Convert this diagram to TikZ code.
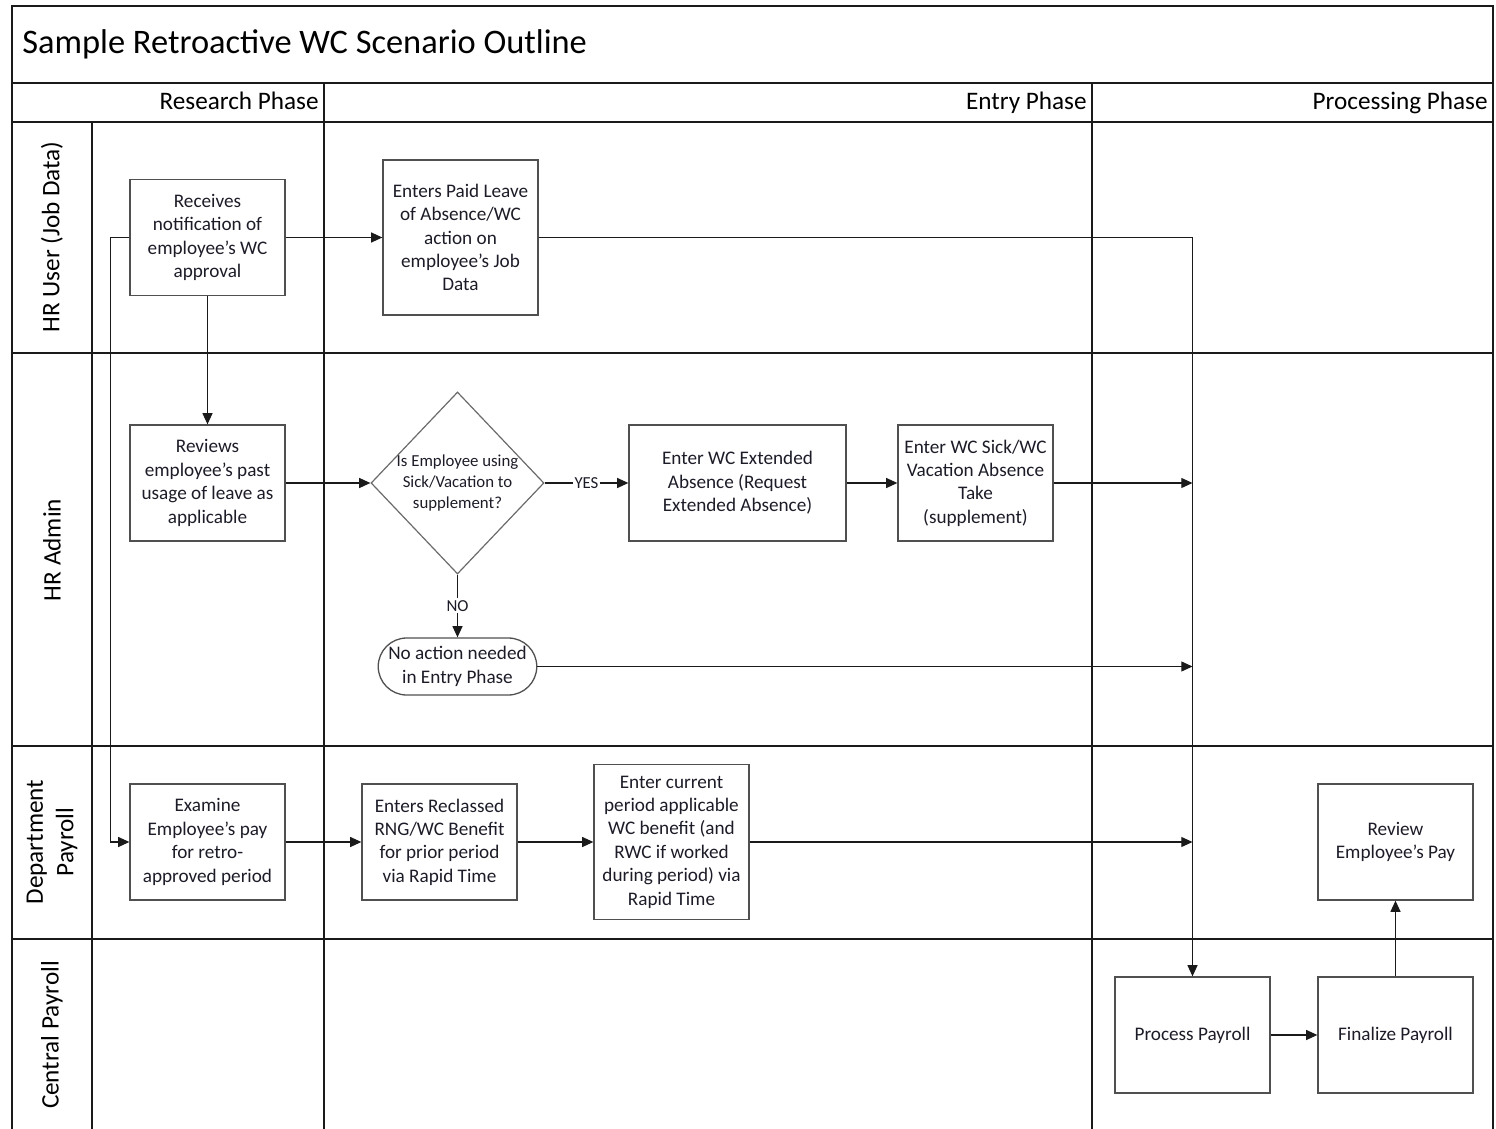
\documentclass[tikz,border=0pt]{standalone}
\usepackage{fontspec}
\setmainfont{Carlito}
\usetikzlibrary{arrows.meta,positioning,shapes.geometric,shapes.misc}
\definecolor{laneline}{HTML}{1A1A1A}
\definecolor{boxline}{HTML}{505050}
\definecolor{boxtext}{HTML}{1C1C28}
\tikzset{
  gridline/.style={draw=laneline,line width=0.75pt},
  stepbox/.style={rectangle,draw=boxline,line width=0.65pt,minimum width=77.5pt,minimum height=58pt,inner sep=1pt,align=center,text=boxtext,font=\fontsize{9.6}{11.7}\selectfont},
  tallbox/.style={stepbox,minimum height=77.5pt},
  widebox/.style={stepbox,minimum width=108.5pt},
  decbox/.style={diamond,draw=boxline!85,line width=0.6pt,minimum width=86.5pt,minimum height=91pt,inner sep=0pt},
  termbox/.style={rounded rectangle,draw=boxline,line width=0.65pt,minimum width=77.5pt,minimum height=28.5pt,inner sep=1pt,align=center,text=boxtext,font=\fontsize{9.6}{11.7}\selectfont},
  flowarrow/.style={-{Triangle[length=5.6pt,width=5pt]},line width=0.6pt,draw=laneline},
  lanelabel/.style={rotate=90,align=center,font=\fontsize{12.6}{15.2}\selectfont},
  phaselabel/.style={anchor=base east,inner sep=0pt,font=\fontsize{12.6}{15.2}\selectfont},
  edgelabel/.style={fill=white,inner sep=1pt,text=boxtext,font=\fontsize{8.4}{10}\selectfont},
}
\begin{document}
\begin{tikzpicture}[x=0.5pt,y=-0.5pt]
  \useasboundingbox (0,0) rectangle (1496,1129);
  % swimlane grid
  \draw[gridline] (12,1129) -- (12,6) -- (1493,6) -- (1493,1129);
  \draw[gridline] (12,83) -- (1493,83);
  \foreach \y in {122,353,746,939}
    \draw[gridline] (12,\y) -- (1493,\y);
  \draw[gridline] (92,122) -- (92,1129);
  \foreach \x in {324,1092}
    \draw[gridline] (\x,83) -- (\x,1129);

  \node[anchor=west,inner sep=0pt,font=\fontsize{17.2}{20}\selectfont] (title) at (22,44) {Sample Retroactive WC Scenario Outline};
  \node[phaselabel] (phRes) at (319,110) {Research Phase};
  \node[phaselabel] (phEnt) at (1087,110) {Entry Phase};
  \node[phaselabel] (phPro) at (1488,110) {Processing Phase};

  \node[lanelabel] (lnUser) at (52,237) {HR User (Job Data)};
  \node[lanelabel] (lnAdmin) at (52,550) {HR Admin};
  \node[lanelabel] (lnDept) at (52,842) {Department\\Payroll};
  \node[lanelabel] (lnCentral) at (52,1035) {Central Payroll};

  \node[stepbox] (nRecv) at (207.5,237.5) {Receives\\notification of\\employee’s WC\\approval};
  \node[tallbox] (nLeave) at (460.5,237.5) {Enters Paid Leave\\of Absence/WC\\action on\\employee’s Job\\Data};
  \node[stepbox] (nUsage) at (207.5,483) {Reviews\\employee’s past\\usage of leave as\\applicable};
  \node[decbox,label={[text=boxtext,align=center,font=\fontsize{8.4}{10.4}\selectfont]center:{Is Employee using\\Sick/Vacation to\\supplement?}}] (nDec) at (457.5,483) {};
  \node[widebox] (nExt) at (737.5,483) {Enter WC Extended\\Absence (Request\\Extended Absence)};
  \node[stepbox] (nSick) at (975.5,483) {Enter WC Sick/WC\\Vacation Absence\\Take\\(supplement)};
  \node[termbox] (nNone) at (457.5,666.5) {No action needed\\in Entry Phase};
  \node[stepbox] (nExam) at (207.5,842) {Examine\\Employee’s pay\\for retro-\\approved period};
  \node[stepbox] (nRecl) at (439.5,842) {Enters Reclassed\\RNG/WC Benefit\\for prior period\\via Rapid Time};
  \node[tallbox] (nCurr) at (671.5,842) {Enter current\\period applicable\\WC benefit (and\\RWC if worked\\during period) via\\Rapid Time};
  \node[stepbox] (nRevPay) at (1395.5,842) {Review\\Employee’s Pay};
  \node[stepbox] (nProc) at (1192.5,1035) {Process Payroll};
  \node[stepbox] (nFinal) at (1395.5,1035) {Finalize Payroll};

  \draw[flowarrow] (nRecv) -- (nLeave);
  \draw[flowarrow] (nLeave.east) -| (nProc.north);
  \draw[flowarrow] (nRecv) -- (nUsage);
  \draw[flowarrow] (nRecv.west) -- ++(-19,0) |- (nExam.west);
  \draw[flowarrow] (nUsage) -- (nDec.west);
  \draw[flowarrow] (nDec.east) -- node[edgelabel] {YES} (nExt.west);
  \draw[flowarrow] (nDec.south) -- node[edgelabel] {NO} (nNone.north);
  \draw[flowarrow] (nExt) -- (nSick);
  \draw[flowarrow] (nSick.east) -- (nSick.east -| nProc.north);
  \draw[flowarrow] (nNone.east) -- (nNone.east -| nProc.north);
  \draw[flowarrow] (nExam) -- (nRecl);
  \draw[flowarrow] (nRecl) -- (nCurr);
  \draw[flowarrow] (nCurr.east) -- (nCurr.east -| nProc.north);
  \draw[flowarrow] (nProc) -- (nFinal);
  \draw[flowarrow] (nFinal) -- (nRevPay);
\end{tikzpicture}
\end{document}
